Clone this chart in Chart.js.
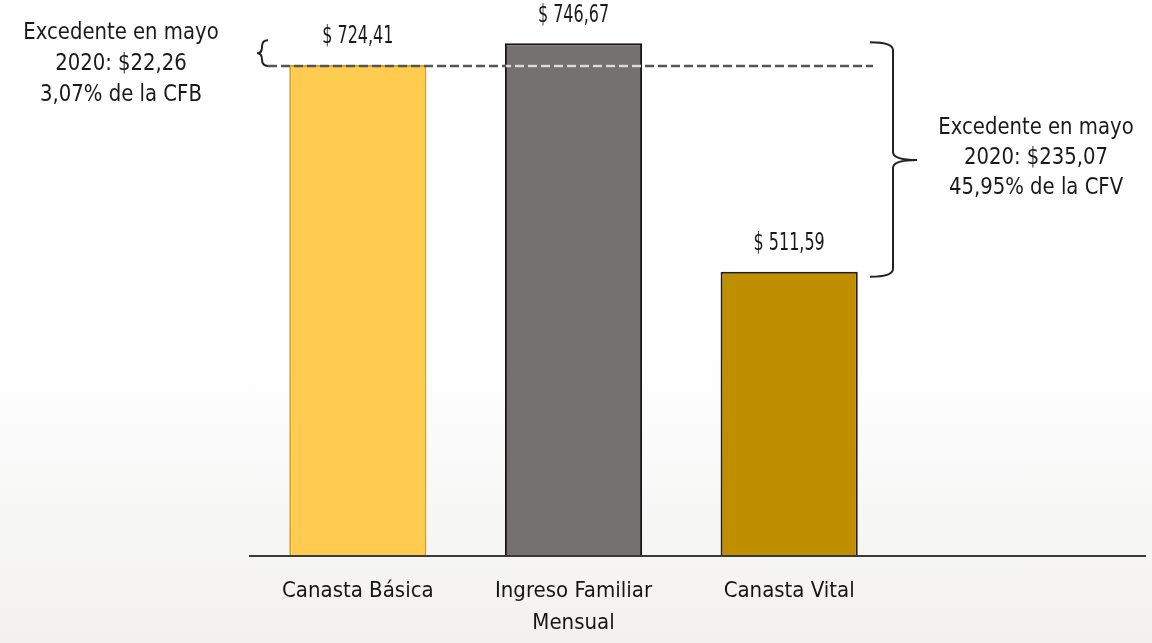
<!DOCTYPE html>
<html>
<head>
<meta charset="utf-8">
<script src="https://cdn.jsdelivr.net/npm/chart.js"></script>
<style>
  html, body { margin: 0; padding: 0; }
  body {
    width: 1152px; height: 643px; overflow: hidden;
    background: linear-gradient(to bottom, #ffffff 0%, #ffffff 55%, #f2f1f0 100%);
  }
  #wrap { position: relative; width: 1152px; height: 643px; }
</style>
</head>
<body>
<div id="wrap"><canvas id="chart"></canvas></div>
<script>
const categories = ["Canasta Básica", ["Ingreso Familiar", "Mensual"], "Canasta Vital"];
const values = [724.41, 746.67, 511.59];
const barColors = ["#FFCC50", "#757171", "#BF8F00"];
const barBorders = ["#D9A024", "#151515", "#261e08"];
const leftNote = ["Excedente en mayo", "2020: $22,26", "3,07% de la CFB"];
const rightNote = ["Excedente en mayo", "2020: $235,07", "45,95% de la CFV"];

const FONT = '"DejaVu Sans Condensed", "DejaVu Sans", sans-serif';

const fmt = (v) => "$ " + v.toFixed(2).replace(".", ",");

// narrow text, squeezed sideways like the original typeface
function narrowText(ctx, text, x, y, size, sx) {
  ctx.save();
  ctx.translate(x, y);
  ctx.scale(sx, 1);
  ctx.font = size + "px " + FONT;
  ctx.fillText(text, 0, 0);
  ctx.restore();
}

function brace(ctx, xArm, xV, xTip, top, bot, mid) {
  const r = Math.min(8, (bot - top) / 4);
  ctx.beginPath();
  ctx.moveTo(xArm, top);
  ctx.quadraticCurveTo(xV, top, xV, top + r);
  ctx.lineTo(xV, mid - r);
  ctx.quadraticCurveTo(xV, mid, xTip, mid);
  ctx.quadraticCurveTo(xV, mid, xV, mid + r);
  ctx.lineTo(xV, bot - r);
  ctx.quadraticCurveTo(xV, bot, xArm, bot);
  ctx.stroke();
}

const extras = {
  id: "extras",
  afterDatasetsDraw(chart) {
    const ctx = chart.ctx;
    const y = chart.scales.y;
    const meta = chart.getDatasetMeta(0);

    ctx.save();
    // base line, longer than the plot area
    ctx.strokeStyle = "#3a3a3a";
    ctx.lineWidth = 2;
    ctx.beginPath();
    ctx.moveTo(249, chart.chartArea.bottom + 1);
    ctx.lineTo(1146, chart.chartArea.bottom + 1);
    ctx.stroke();

    // dashed reference line at Canasta Basica level
    const yRef = y.getPixelForValue(values[0]) + 1;
    ctx.setLineDash([9, 4]);
    ctx.lineWidth = 2.5;
    ctx.strokeStyle = "#555555";
    ctx.beginPath();
    ctx.moveTo(268, yRef);
    ctx.lineTo(873, yRef);
    ctx.stroke();
    const gb = meta.data[1];
    ctx.save();
    ctx.beginPath();
    ctx.rect(gb.x - gb.width / 2 + 1, yRef - 3, gb.width - 2, 6);
    ctx.clip();
    ctx.strokeStyle = "#dcdcdc";
    ctx.beginPath();
    ctx.moveTo(268, yRef);
    ctx.lineTo(873, yRef);
    ctx.stroke();
    ctx.restore();
    ctx.setLineDash([]);

    // braces
    ctx.strokeStyle = "#222222";
    ctx.lineWidth = 2;
    const yTop = y.getPixelForValue(values[1]);
    const yBot = y.getPixelForValue(values[2]) + 5;
    brace(ctx, 870, 893, 917, yTop - 1, yBot, (yTop + yBot) / 2);
    brace(ctx, 268, 262, 257, yTop - 3, yRef, yTop + 10);

    // value labels
    ctx.fillStyle = "#1a1a1a";
    ctx.textAlign = "center";
    ctx.textBaseline = "middle";
    meta.data.forEach((bar, i) => {
      narrowText(ctx, fmt(values[i]), bar.x, bar.y - 28, 24, 0.74);
    });

    // notes
    leftNote.forEach((t, i) => narrowText(ctx, t, 121, 33 + i * 31, 23, 0.95));
    rightNote.forEach((t, i) => narrowText(ctx, t, 1036, 128 + i * 30, 23, 0.95));
    ctx.restore();
  }
};

new Chart(document.getElementById("chart"), {
  type: "bar",
  data: {
    labels: categories,
    datasets: [{
      data: values,
      backgroundColor: barColors,
      borderColor: barBorders,
      borderWidth: 2,
      categoryPercentage: 1,
      barPercentage: 0.636
    }]
  },
  options: {
    responsive: true,
    maintainAspectRatio: false,
    animation: false,
    layout: { padding: { left: 250, right: 255, top: 10, bottom: 0 } },
    plugins: { legend: { display: false }, tooltip: { enabled: false } },
    scales: {
      x: {
        grid: { display: false, drawTicks: false },
        border: { display: false },
        afterFit(scale) { scale.height = 88; },
        ticks: {
          padding: 20,
          color: "#151515",
          font: { family: FONT, size: 22, lineHeight: 1.4545 }
        }
      },
      y: {
        display: false,
        min: 220,
        max: 781
      }
    }
  },
  plugins: [extras]
});
</script>
</body>
</html>
